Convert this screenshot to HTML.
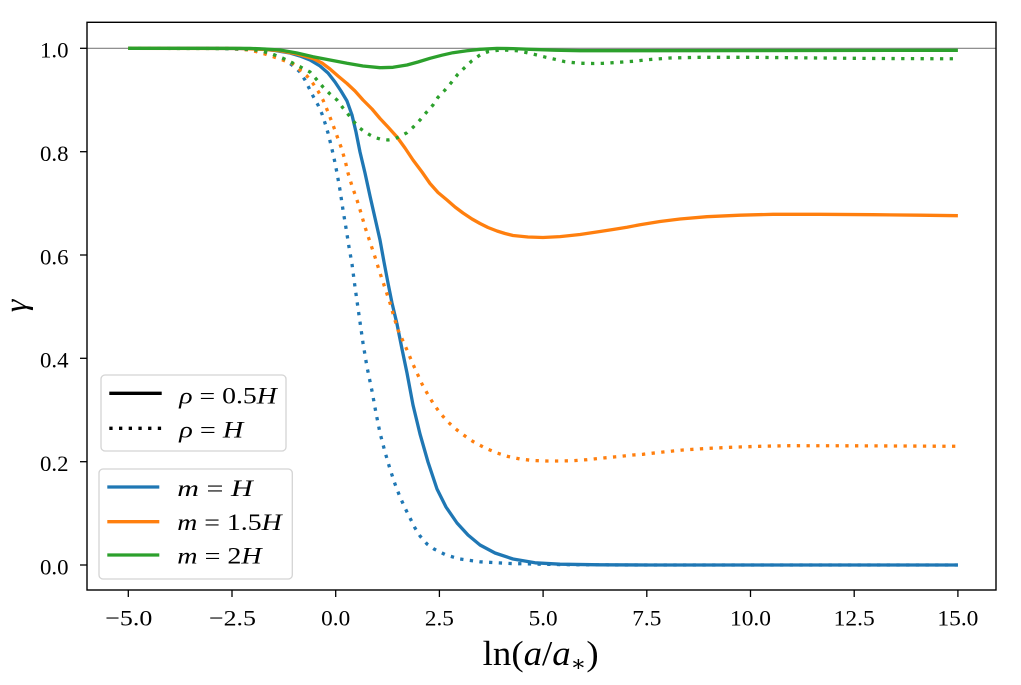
<!DOCTYPE html>
<html><head><meta charset="utf-8"><style>
html,body{margin:0;padding:0;background:#fff;}
svg{display:block;}
text{font-family:"Liberation Serif","DejaVu Serif",serif;fill:#000;}
</style></head><body>
<svg width="1021" height="685" viewBox="0 0 1021 685" xmlns="http://www.w3.org/2000/svg">
<rect x="0" y="0" width="1021" height="685" fill="#fff"/>
<!-- axhline -->
<line x1="87" y1="48.3" x2="996" y2="48.3" stroke="#808080" stroke-width="1.2"/>
<g fill="none" stroke-width="3.3" stroke-linejoin="round">
<!-- blue solid -->
<polyline stroke="#1f77b4" points="128.3,48.3 200,48.3 240,48.5 260,49 275,50.5 290,53 300,56 310,60 320,66 328,73 335,82 341,91 347,101 352,115 356,132 360,152 365,173 370,196 375,218 380,240 384,262 388,283 392,303 397,324 402,349 407,373 413,405 420,434 428,462 437,489 446,507 457,523 468,535 480,545 495,553 513,559 535,562.8 560,564.2 600,564.8 650,565 957.9,565"/>
<!-- blue dotted -->
<polyline stroke="#1f77b4" stroke-dasharray="3.3 6.4" points="128.3,48.3 220,48.4 245,49.5 260,51.5 272,54 283,58.5 292,65 300,72 305,80 309,88 313,96 318,105 322,114 325,123 328,133 331,145 334,158 337,173 340,190 343,210 346,228 349,247 352,264 355,287 359,315 363,343 367,367 372,391 376,413 380,433 385,452 390,469 395,484 400,497 405,508 410,518 415,528 420,536 427,544 434,549 446,555 460,559 480,561.8 510,563.5 560,564.6 620,565 957.9,565"/>
<!-- orange solid -->
<polyline stroke="#ff7f0e" points="128.3,48.3 240,48.5 265,49.5 280,50.7 297,54 313,58.5 322,63 330,69 338,76 347,83.5 355,91 363,100 372,109 380,118.5 388,127 397,137 405,148 413,160 422,172 430,183.5 438,192.5 447,200 455,207 463,213 472,219 480,223.5 488,227.5 497,231 505,233.5 513,235.5 528,237 543,237.5 560,236.6 580,234.5 600,231.5 613,229.5 627,227.3 640,224.7 660,221.5 680,219 707,216.7 740,215.2 773,214.3 820,214.3 873,214.7 920,215.2 957.9,215.7"/>
<!-- orange dotted -->
<polyline stroke="#ff7f0e" stroke-dasharray="3.3 6.4" points="128.3,48.3 230,48.4 250,50 265,54 280,59 293,64 300,70 307,76 313,83.5 318,91 323,100 328,112 333,125 337,136 341,147 345,160 348,173 352,186 357,200 361,213 365,227 370,242 375,257 380,273 385,288 390,303 394,317 398,330 403,341 407,350 412,362 417,373 422,384 427,393 433,403 440,413 448,422 457,430 465,436 473,441.5 485,448 497,453 508,456.5 520,459 533,460.5 547,461 560,461 573,460.7 587,459.7 600,458.3 617,456.7 633,455 643,454.3 663,452 683,450 706,448.5 730,447.3 760,446.3 790,445.7 850,445.8 900,446 957.9,446.3"/>
<!-- green dotted -->
<polyline stroke="#2ca02c" stroke-dasharray="3.3 6.4" points="128.3,48.3 235,48.6 250,49.5 260,50.5 272,54 283,58.3 290,61.7 300,66.7 310,72 317,80 323,87 330,94 337,100 343,108 350,116.7 355,123 360,128.3 365,132 370,135 375,137.5 380,139 388,140 393,139.3 398,137.3 403,134.8 407,132.7 413,127.3 420,120 427,111.7 433,105 438,97.3 445,90 452,81.7 458,74 465,67.3 472,60.7 480,55 488,51.7 500,50 508,50.2 517,50.7 527,52.7 537,55 546,57.3 555,59.3 565,61.7 575,62.8 583,63.3 593,63.5 603,63.3 613,62.7 623,62 633,61.3 650,59.5 670,58 700,57.3 750,57.3 800,57.8 850,58.3 900,58.6 957.9,58.8"/>
<!-- green solid -->
<polyline stroke="#2ca02c" points="128.3,48.3 250,48.4 265,49 280,50 297,53 313,56.7 330,60 347,63.3 363,66 380,67.7 393,67.3 407,65 418,62 430,58.3 442,55.2 453,52.7 467,50.8 480,49.3 497,48.4 513,48.6 530,49.3 555,50.2 580,50.7 640,50.7 957.9,50.3"/>
</g>
<!-- spines -->
<rect x="87" y="22.3" width="909" height="567.7" fill="none" stroke="#000" stroke-width="1.4"/>
<!-- y ticks -->
<g stroke="#000" stroke-width="1.3">
<line x1="80" y1="48.3" x2="87" y2="48.3"/>
<line x1="80" y1="151.7" x2="87" y2="151.7"/>
<line x1="80" y1="255" x2="87" y2="255"/>
<line x1="80" y1="358.3" x2="87" y2="358.3"/>
<line x1="80" y1="461.7" x2="87" y2="461.7"/>
<line x1="80" y1="565" x2="87" y2="565"/>
<line x1="128.3" y1="590" x2="128.3" y2="597"/>
<line x1="232" y1="590" x2="232" y2="597"/>
<line x1="335.7" y1="590" x2="335.7" y2="597"/>
<line x1="439.4" y1="590" x2="439.4" y2="597"/>
<line x1="543.1" y1="590" x2="543.1" y2="597"/>
<line x1="646.8" y1="590" x2="646.8" y2="597"/>
<line x1="750.5" y1="590" x2="750.5" y2="597"/>
<line x1="854.2" y1="590" x2="854.2" y2="597"/>
<line x1="957.9" y1="590" x2="957.9" y2="597"/>
</g>
<g font-size="22.5" text-anchor="end">
<text x="68.5" y="57.6" textLength="28.5" lengthAdjust="spacingAndGlyphs">1.0</text>
<text x="68.5" y="161" textLength="28.5" lengthAdjust="spacingAndGlyphs">0.8</text>
<text x="68.5" y="264.3" textLength="28.5" lengthAdjust="spacingAndGlyphs">0.6</text>
<text x="68.5" y="367.6" textLength="28.5" lengthAdjust="spacingAndGlyphs">0.4</text>
<text x="68.5" y="471" textLength="28.5" lengthAdjust="spacingAndGlyphs">0.2</text>
<text x="68.5" y="574.3" textLength="28.5" lengthAdjust="spacingAndGlyphs">0.0</text>
</g>
<g font-size="22.5" text-anchor="middle">
<text x="128.8" y="625.7" textLength="47" lengthAdjust="spacingAndGlyphs">−5.0</text>
<text x="232.5" y="625.7" textLength="47" lengthAdjust="spacingAndGlyphs">−2.5</text>
<text x="335.7" y="625.7" textLength="29" lengthAdjust="spacingAndGlyphs">0.0</text>
<text x="439.4" y="625.7" textLength="29" lengthAdjust="spacingAndGlyphs">2.5</text>
<text x="543.1" y="625.7" textLength="29" lengthAdjust="spacingAndGlyphs">5.0</text>
<text x="646.8" y="625.7" textLength="29" lengthAdjust="spacingAndGlyphs">7.5</text>
<text x="750.5" y="625.7" textLength="41" lengthAdjust="spacingAndGlyphs">10.0</text>
<text x="854.2" y="625.7" textLength="41" lengthAdjust="spacingAndGlyphs">12.5</text>
<text x="957.9" y="625.7" textLength="41" lengthAdjust="spacingAndGlyphs">15.0</text>
</g>
<!-- axis labels -->
<text x="482.7" y="665" font-size="35" textLength="116" lengthAdjust="spacingAndGlyphs">ln(<tspan font-style="italic">a</tspan>/<tspan font-style="italic">a</tspan><tspan font-size="22" dy="6">∗</tspan><tspan dy="-6">)</tspan></text>
<text transform="translate(26,306) rotate(-90)" font-size="32" font-style="italic" text-anchor="middle">γ</text>
<!-- legend 1 -->
<rect x="101" y="375" width="185" height="76" rx="4" ry="4" fill="#fff" fill-opacity="0.8" stroke="#d4d4d4" stroke-width="1.3"/>
<line x1="109.3" y1="393.3" x2="161.7" y2="393.3" stroke="#000" stroke-width="3.3"/>
<line x1="109.3" y1="428.3" x2="161.7" y2="428.3" stroke="#000" stroke-width="3.3" stroke-dasharray="3.3 6.4"/>
<g font-size="23">
<text x="179.3" y="403.3" textLength="97.5" lengthAdjust="spacingAndGlyphs"><tspan font-style="italic">ρ</tspan> = 0.5<tspan font-style="italic">H</tspan></text>
<text x="179.3" y="437.3" textLength="64" lengthAdjust="spacingAndGlyphs"><tspan font-style="italic">ρ</tspan> = <tspan font-style="italic">H</tspan></text>
</g>
<!-- legend 2 -->
<rect x="99" y="469" width="193.3" height="110" rx="4" ry="4" fill="#fff" fill-opacity="0.8" stroke="#d4d4d4" stroke-width="1.3"/>
<line x1="107.3" y1="487" x2="159.3" y2="487" stroke="#1f77b4" stroke-width="3.3"/>
<line x1="107.3" y1="521.7" x2="159.3" y2="521.7" stroke="#ff7f0e" stroke-width="3.3"/>
<line x1="107.3" y1="555" x2="159.3" y2="555" stroke="#2ca02c" stroke-width="3.3"/>
<g font-size="23">
<text x="177.3" y="496" textLength="75.4" lengthAdjust="spacingAndGlyphs"><tspan font-style="italic">m</tspan> = <tspan font-style="italic">H</tspan></text>
<text x="177.3" y="530" textLength="104.4" lengthAdjust="spacingAndGlyphs"><tspan font-style="italic">m</tspan> = 1.5<tspan font-style="italic">H</tspan></text>
<text x="177.3" y="563.3" textLength="84.4" lengthAdjust="spacingAndGlyphs"><tspan font-style="italic">m</tspan> = 2<tspan font-style="italic">H</tspan></text>
</g>
</svg>
</body></html>
